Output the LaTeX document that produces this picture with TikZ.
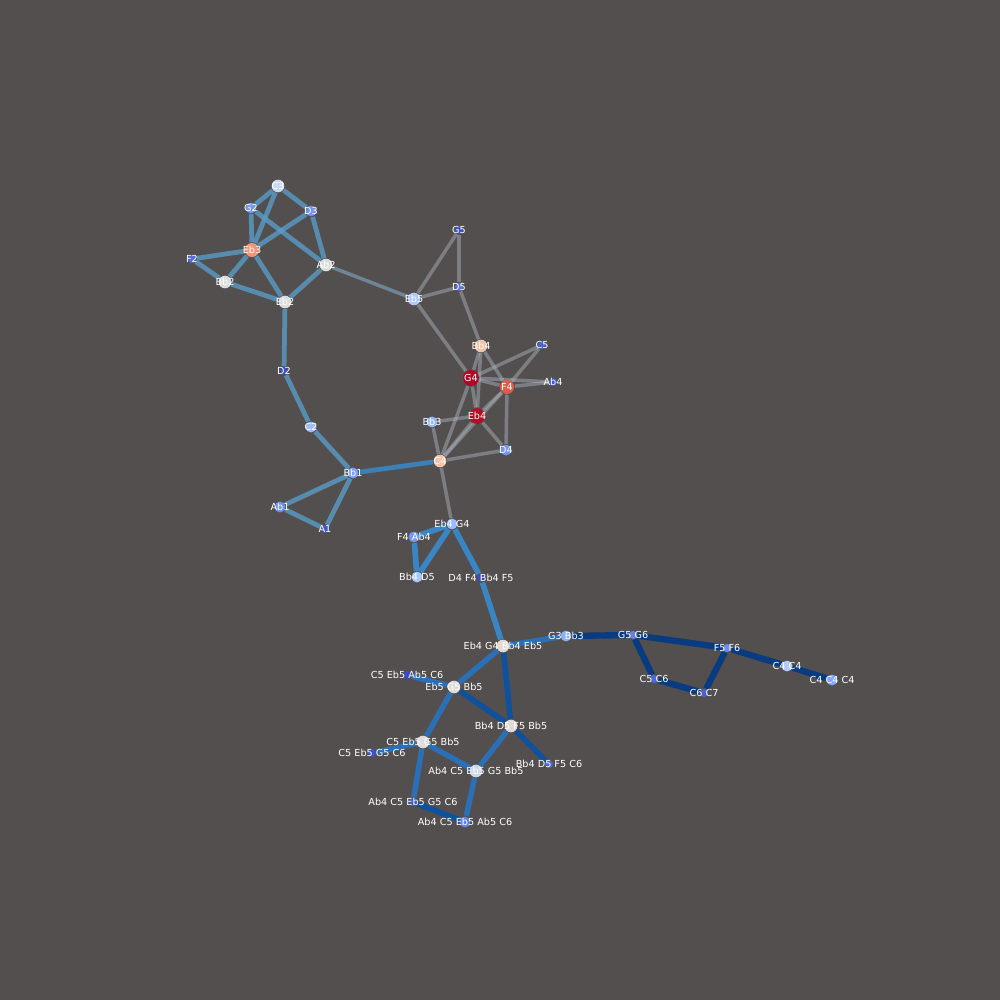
\documentclass[tikz,border=0pt]{standalone}
\usepackage{fontspec}
\setmainfont{DejaVu Sans}
\usepackage{tikz}

\pgfdeclarelayer{bg}
\pgfdeclarelayer{edges}
\pgfsetlayers{bg,edges,main}

\definecolor{backc}{HTML}{544F4F}
\definecolor{edgetop}{HTML}{5A9CC8}
\definecolor{edgemid}{HTML}{AEB9C3}
\definecolor{edgeone}{HTML}{3A86C4}
\definecolor{edgetwo}{HTML}{2B70B6}
\definecolor{edgethree}{HTML}{0E519C}
\definecolor{edgefour}{HTML}{083B80}

\begin{document}
\begin{tikzpicture}[x=0.01cm,y=-0.01cm,
  nd/.style={circle,inner sep=0pt,draw=none},
  lbl/.style={text=white,inner sep=0pt,font=\fontsize{2.75}{3}\selectfont},
  sxl/.style={nd,minimum size=4.5pt},
  sl/.style={nd,minimum size=4pt},
  sm/.style={nd,minimum size=3.6pt},
  ss/.style={nd,minimum size=3.1pt},
  sxs/.style={nd,minimum size=2.3pt},
  ea/.style={draw=edgetop,line width=1.35pt,draw opacity=0.8},
  eg/.style={draw=edgemid,line width=1pt,draw opacity=0.45},
  eb1/.style={draw=edgeone,line width=1.6pt},
  eb2/.style={draw=edgetwo,line width=1.55pt},
  eb3/.style={draw=edgethree,line width=1.6pt},
  eb4/.style={draw=edgefour,line width=1.8pt}]
\begin{pgfonlayer}{bg}
  \fill[backc] (0,0) rectangle (1000,1000);
\end{pgfonlayer}

  % upper group
  \node[sm,fill={rgb,255:red,201;green,215;blue,240},label={[lbl]center:C3}] (C3) at (278,186) {};
  \node[ss,fill={rgb,255:red,117;green,151;blue,246},label={[lbl]center:G2}] (G2) at (251,208) {};
  \node[ss,fill={rgb,255:red,111;green,146;blue,243},label={[lbl]center:D3}] (D3) at (311,211) {};
  \node[sl,fill={rgb,255:red,243;green,149;blue,119},label={[lbl]center:Eb3}] (Eb3) at (252,250) {};
  \node[sxs,fill={rgb,255:red,84;green,112;blue,222},label={[lbl]center:F2}] (F2) at (192,259) {};
  \node[sm,fill={rgb,255:red,220;green,221;blue,221},label={[lbl]center:Bb2}] (Bb2) at (225,282) {};
  \node[sm,fill={rgb,255:red,220;green,221;blue,221},label={[lbl]center:Ab2}] (Ab2) at (326,265) {};
  \node[sm,fill={rgb,255:red,220;green,221;blue,221},label={[lbl]center:Eb2}] (Eb2) at (285,302) {};
  \node[sxs,fill={rgb,255:red,59;green,76;blue,192},label={[lbl]center:D2}] (D2) at (284,371) {};
  \node[ss,fill={rgb,255:red,157;green,189;blue,252},label={[lbl]center:C2}] (C2) at (311,427) {};
  \node[ss,fill={rgb,255:red,125;green,160;blue,249},label={[lbl]center:Bb1}] (Bb1) at (353,473) {};
  \node[ss,fill={rgb,255:red,112;green,147;blue,243},label={[lbl]center:Ab1}] (Ab1) at (280,507) {};
  \node[sxs,fill={rgb,255:red,67;green,88;blue,203},label={[lbl]center:A1}] (A1) at (325,529) {};

  % middle group
  \node[sxs,fill={rgb,255:red,64;green,85;blue,200},label={[lbl]center:G5}] (G5) at (459,230) {};
  \node[sxs,fill={rgb,255:red,85;green,114;blue,223},label={[lbl]center:D5}] (D5) at (459,287) {};
  \node[sm,fill={rgb,255:red,174;green,201;blue,252},label={[lbl]center:Eb5}] (Eb5) at (414,299) {};
  \node[sm,fill={rgb,255:red,245;green,194;blue,170},label={[lbl]center:Bb4}] (Bb4) at (481,346) {};
  \node[sxs,fill={rgb,255:red,74;green,99;blue,211},label={[lbl]center:C5}] (C5) at (542,345) {};
  \node[sxl,fill={rgb,255:red,180;green,4;blue,38},label={[lbl]center:G4}] (G4) at (471,378) {};
  \node[sl,fill={rgb,255:red,220;green,93;blue,74},label={[lbl]center:F4}] (F4) at (507,387) {};
  \node[sxs,fill={rgb,255:red,67;green,88;blue,203},label={[lbl]center:Ab4}] (Ab4) at (553,382) {};
  \node[sxl,fill={rgb,255:red,183;green,13;blue,40},label={[lbl]center:Eb4}] (Eb4) at (477,416) {};
  \node[ss,fill={rgb,255:red,152;green,185;blue,255},label={[lbl]center:Bb3}] (Bb3) at (432,422) {};
  \node[ss,fill={rgb,255:red,115;green,150;blue,245},label={[lbl]center:D4}] (D4) at (506,450) {};
  \node[sm,fill={rgb,255:red,244;green,197;blue,173},label={[lbl]center:C4}] (C4) at (440,461) {};

  % lower group
  \node[ss,fill={rgb,255:red,154;green,187;blue,255},label={[lbl]center:Eb4 G4}] (Eb4G4) at (452,524) {};
  \node[ss,fill={rgb,255:red,117;green,151;blue,246},label={[lbl]center:F4 Ab4}] (F4Ab4) at (414,537) {};
  \node[ss,fill={rgb,255:red,170;green,199;blue,253},label={[lbl]center:Bb4 D5}] (Bb4D5) at (417,577) {};
  \node[sxs,fill={rgb,255:red,59;green,76;blue,192},label={[lbl]center:D4 F4 Bb4 F5}] (D4F4Bb4F5) at (481,578) {};
  \node[sm,fill={rgb,255:red,226;green,218;blue,213},label={[lbl]center:Eb4 G4 Bb4 Eb5}] (Eb4G4Bb4Eb5) at (503,646) {};
  \node[ss,fill={rgb,255:red,140;green,175;blue,254},label={[lbl]center:G3 Bb3}] (G3Bb3) at (566,636) {};
  \node[sxs,fill={rgb,255:red,98;green,130;blue,234},label={[lbl]center:G5 G6}] (G5G6) at (633,635) {};
  \node[sxs,fill={rgb,255:red,107;green,141;blue,240},label={[lbl]center:F5 F6}] (F5F6) at (727,648) {};
  \node[ss,fill={rgb,255:red,178;green,204;blue,251},label={[lbl]center:C4 C4}] (C4C4) at (787,666) {};
  \node[ss,fill={rgb,255:red,132;green,167;blue,252},label={[lbl]center:C4 C4 C4}] (C4C4C4) at (832,680) {};
  \node[sxs,fill={rgb,255:red,79;green,105;blue,217},label={[lbl]center:C5 C6}] (C5C6) at (654,679) {};
  \node[sxs,fill={rgb,255:red,73;green,97;blue,210},label={[lbl]center:C6 C7}] (C6C7) at (704,693) {};
  \node[sxs,fill={rgb,255:red,59;green,76;blue,192},label={[lbl]center:C5 Eb5 Ab5 C6}] (C5Eb5Ab5C6) at (407,675) {};
  \node[sm,fill={rgb,255:red,223;green,219;blue,217},label={[lbl]center:Eb5 G5 Bb5}] (Eb5G5Bb5) at (454,687) {};
  \node[sm,fill={rgb,255:red,226;green,218;blue,213},label={[lbl]center:Bb4 D5 F5 Bb5}] (Bb4D5F5Bb5) at (511,726) {};
  \node[sm,fill={rgb,255:red,220;green,221;blue,221},label={[lbl]center:C5 Eb5 G5 Bb5}] (C5Eb5G5Bb5) at (423,742) {};
  \node[sxs,fill={rgb,255:red,63;green,83;blue,198},label={[lbl]center:C5 Eb5 G5 C6}] (C5Eb5G5C6) at (372,753) {};
  \node[sm,fill={rgb,255:red,205;green,217;blue,236},label={[lbl]center:Ab4 C5 Eb5 G5 Bb5}] (Ab4C5Eb5G5Bb5) at (476,771) {};
  \node[sxs,fill={rgb,255:red,76;green,102;blue,214},label={[lbl]center:Bb4 D5 F5 C6}] (Bb4D5F5C6) at (549,764) {};
  \node[sxs,fill={rgb,255:red,68;green,90;blue,204},label={[lbl]center:Ab4 C5 Eb5 G5 C6}] (Ab4C5Eb5G5C6) at (413,802) {};
  \node[ss,fill={rgb,255:red,99;green,132;blue,235},label={[lbl]center:Ab4 C5 Eb5 Ab5 C6}] (Ab4C5Eb5Ab5C6) at (465,822) {};

\begin{pgfonlayer}{edges}
  % upper edges
  \draw[ea] (C3) -- (G2);
  \draw[ea] (C3) -- (Eb3);
  \draw[ea] (C3) -- (D3);
  \draw[ea] (G2) -- (Eb3);
  \draw[ea] (G2) -- (Ab2);
  \draw[ea] (D3) -- (Eb3);
  \draw[ea] (D3) -- (Ab2);
  \draw[ea] (F2) -- (Eb3);
  \draw[ea] (F2) -- (Bb2);
  \draw[ea] (Bb2) -- (Eb3);
  \draw[ea] (Bb2) -- (Eb2);
  \draw[ea] (Eb3) -- (Eb2);
  \draw[ea] (Ab2) -- (Eb2);
  \draw[ea] (Eb2) -- (D2);
  \draw[ea] (D2) -- (C2);
  \draw[ea] (C2) -- (Bb1);
  \draw[ea] (Bb1) -- (Ab1);
  \draw[ea] (Bb1) -- (A1);
  \draw[ea] (Ab1) -- (A1);
  \draw[ea,draw=edgeone,draw opacity=0.9] (Bb1) -- (C4);
  \draw[eg,draw=edgetop!55!edgemid,draw opacity=0.6] (Ab2) -- (Eb5);
  % middle edges
  \draw[eg] (G5) -- (Eb5);
  \draw[eg] (G5) -- (D5);
  \draw[eg] (Eb5) -- (D5);
  \draw[eg] (Eb5) -- (G4);
  \draw[eg] (D5) -- (Bb4);
  \draw[eg] (Bb4) -- (F4);
  \draw[eg] (Bb4) -- (G4);
  \draw[eg] (Bb4) -- (Eb4);
  \draw[eg] (G4) -- (C5);
  \draw[eg] (G4) -- (F4);
  \draw[eg] (G4) -- (Ab4);
  \draw[eg] (G4) -- (Eb4);
  \draw[eg] (G4) -- (C4);
  \draw[eg] (F4) -- (C5);
  \draw[eg] (F4) -- (Ab4);
  \draw[eg] (F4) -- (Eb4);
  \draw[eg] (F4) -- (D4);
  \draw[eg] (F4) -- (C4);
  \draw[eg] (Eb4) -- (Bb3);
  \draw[eg] (Eb4) -- (C4);
  \draw[eg] (Eb4) -- (D4);
  \draw[eg] (Bb3) -- (C4);
  \draw[eg] (C4) -- (D4);
  \draw[eg] (C4) -- (Eb4G4);
  % lower edges
  \draw[eb1] (Eb4G4) -- (F4Ab4);
  \draw[eb1] (Eb4G4) -- (Bb4D5);
  \draw[eb1] (F4Ab4) -- (Bb4D5);
  \draw[eb1] (Eb4G4) -- (D4F4Bb4F5);
  \draw[eb1] (D4F4Bb4F5) -- (Eb4G4Bb4Eb5);
  \draw[eb2] (Eb4G4Bb4Eb5) -- (G3Bb3);
  \draw[eb2] (Eb4G4Bb4Eb5) -- (Eb5G5Bb5);
  \draw[eb3] (Eb4G4Bb4Eb5) -- (Bb4D5F5Bb5);
  \draw[eb2] (C5Eb5Ab5C6) -- (Eb5G5Bb5);
  \draw[eb2] (Eb5G5Bb5) -- (C5Eb5G5Bb5);
  \draw[eb3] (Eb5G5Bb5) -- (Bb4D5F5Bb5);
  \draw[eb2] (Bb4D5F5Bb5) -- (Ab4C5Eb5G5Bb5);
  \draw[eb3] (Bb4D5F5Bb5) -- (Bb4D5F5C6);
  \draw[eb2] (C5Eb5G5Bb5) -- (C5Eb5G5C6);
  \draw[eb2] (C5Eb5G5Bb5) -- (Ab4C5Eb5G5Bb5);
  \draw[eb2] (C5Eb5G5Bb5) -- (Ab4C5Eb5G5C6);
  \draw[eb3] (Ab4C5Eb5G5C6) -- (Ab4C5Eb5Ab5C6);
  \draw[eb2] (Ab4C5Eb5G5Bb5) -- (Ab4C5Eb5Ab5C6);
  \draw[eb4] (G3Bb3) -- (G5G6);
  \draw[eb4] (G5G6) -- (F5F6);
  \draw[eb4] (G5G6) -- (C5C6);
  \draw[eb4] (C5C6) -- (C6C7);
  \draw[eb4] (C6C7) -- (F5F6);
  \draw[eb4] (F5F6) -- (C4C4);
  \draw[eb4] (C4C4) -- (C4C4C4);
\end{pgfonlayer}
\end{tikzpicture}
\end{document}
